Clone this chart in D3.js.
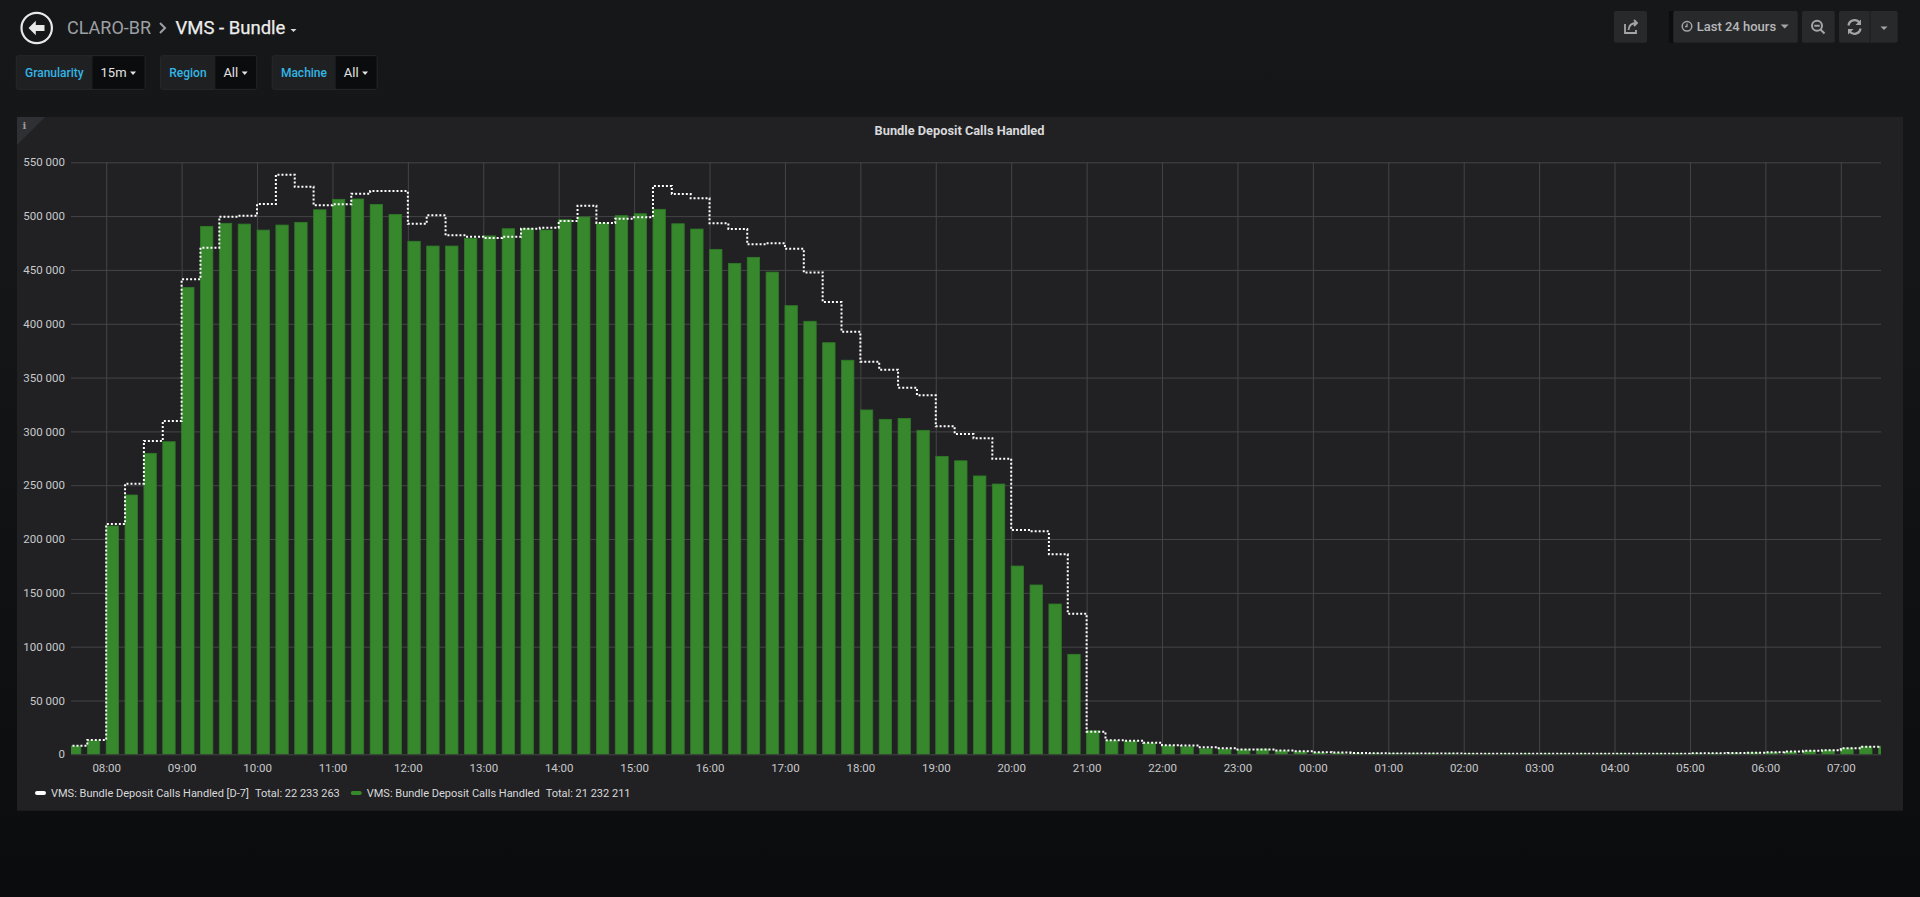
<!DOCTYPE html>
<html lang="en">
<head>
<meta charset="utf-8">
<title>VMS - Bundle</title>
<script src="https://d3js.org/d3.v7.min.js"></script>
<style>
  html, body { margin: 0; padding: 0; }
  body {
    width: 1920px; height: 897px; overflow: hidden;
    font-family: Roboto, "Helvetica Neue", Arial, sans-serif;
    background: linear-gradient(180deg, #161719 0px, #151618 250px, #0b0c0e 897px);
  }
  svg { display: block; }
</style>
</head>
<body>
<script>
// 15 minute buckets, 07:30 -> 07:30 next day
var startTime = "2018-06-11 07:30";

// VMS: Bundle Deposit Calls Handled
var calls = [
  7700, 12700,
  212100, 240900, 279600, 290400,
  433800, 490500, 493300, 492600,
  487000, 491700, 494200, 505900,
  515600, 515900, 510900, 501600,
  476600, 472200, 472200, 479400,
  481600, 488300, 488600, 487100,
  496700, 499200, 493600, 500400,
  502200, 506300, 492900, 488000,
  469100, 456100, 461700, 448000,
  416800, 402300, 382400, 366100,
  319900, 311200, 312100, 301000,
  276800, 272700, 258600, 251100,
  174900, 157300, 139600, 92900,
  21900, 12800, 12200, 10300,
  7900, 7000, 5100, 4800,
  4200, 4800, 3200, 2300,
  1400, 1100, 900, 800,
  700, 600, 600, 500,
  500, 400, 400, 400,
  400, 400, 400, 400,
  500, 500, 500, 600,
  700, 800, 1000, 1400,
  1800, 2300, 3200, 3800,
  5700, 7000, 7600
];

// VMS: Bundle Deposit Calls Handled [D-7]
var callsD7 = [
  8000, 13300,
  213900, 251400, 291000, 309600,
  441300, 470700, 499500, 500400,
  511200, 538500, 527300, 510000,
  511000, 520800, 523300, 523300,
  492900, 500700, 482200, 480900,
  479600, 480900, 488300, 489200,
  495500, 509700, 493600, 497600,
  498900, 528000, 520500, 516500,
  493300, 488000, 473800, 474700,
  469700, 447700, 420200, 392600,
  364800, 357300, 340600, 333500,
  304700, 297600, 293600, 274600,
  208400, 207200, 185800, 130600,
  21000, 13100, 12500, 10700,
  8500, 8200, 6600, 5700,
  4500, 4500, 3500, 2900,
  2000, 1600, 1300, 1000,
  700, 700, 700, 700,
  500, 500, 500, 500,
  500, 500, 500, 500,
  500, 500, 500, 500,
  900, 1000, 1200, 1500,
  2000, 2600, 3200, 3800,
  5700, 7000, 7500
];

var seriesNames = ["VMS: Bundle Deposit Calls Handled [D-7]", "VMS: Bundle Deposit Calls Handled"];
var seriesTotals = [22233263, 21232211];
var seriesColors = ["#ffffff", "#37872d"];
var yTicks = [0, 50000, 100000, 150000, 200000, 250000, 300000, 350000, 400000, 450000, 500000, 550000];

var varLabels = ["Granularity", "Region", "Machine"];
var varValues = ["15m", "All", "All"];

var W = 1920, H = 897;
var plot = {left: 71, right: 1881, top: 162.3, bottom: 754.3};

var fmt = d3.formatLocale({decimal: ".", thousands: " ", grouping: [3], currency: ["", ""]}).format(",");

var t0 = d3.timeParse("%Y-%m-%d %H:%M")(startTime);
var times = calls.map(function(d, i) { return d3.timeMinute.offset(t0, 15 * i); });

var svg = d3.select("body").append("svg")
  .attr("width", W).attr("height", H);

// ---------- header ----------
var hdr = svg.append("g");
hdr.append("circle").attr("cx", 36.7).attr("cy", 28).attr("r", 15.2)
  .attr("fill", "none").attr("stroke", "#e8e8e8").attr("stroke-width", 2.2);
hdr.append("path")
  .attr("d", "M28.5,28 L35.8,20.8 L35.8,25 L44.5,25 L44.5,31 L35.8,31 L35.8,35.2 Z")
  .attr("fill", "#e8e8e8");
hdr.append("text").attr("x", 67).attr("y", 33.5)
  .attr("font-size", 18).attr("fill", "#9da0a4").text("CLARO-BR");
hdr.append("path").attr("d", "M160,23 L165,28 L160,33")
  .attr("fill", "none").attr("stroke", "#9da0a4").attr("stroke-width", 2);
hdr.append("text").attr("x", 175.5).attr("y", 33.5)
  .attr("font-size", 18.5).attr("fill", "#ececec").attr("stroke", "#ececec").attr("stroke-width", 0.25)
  .text("VMS - Bundle");
hdr.append("path").attr("d", "M290.5,29 L296.5,29 L293.5,32 Z").attr("fill", "#d8d9da");

// template variables
var vx = 16.3;
varLabels.forEach(function(lab, i) {
  var g = svg.append("g");
  var lt = g.append("text").attr("y", 76.5).attr("font-size", 12).attr("font-weight", 500)
    .attr("fill", "#33b5e5").text(lab);
  var lw = lt.node().getComputedTextLength();
  var vt = g.append("text").attr("y", 77).attr("font-size", 13)
    .attr("fill", "#e3e3e3").text(varValues[i]);
  var vw = vt.node().getComputedTextLength();
  var labW = lw + 17.5, valW = vw + 8 + 3.5 + 6 + 9;
  g.insert("rect", "text").attr("x", vx).attr("y", 55.7).attr("width", labW + valW).attr("height", 33.6)
    .attr("rx", 2).attr("fill", "#1f2022").attr("stroke", "#27282a");
  g.insert("rect", "text").attr("x", vx + labW).attr("y", 56.2).attr("width", valW - 0.5).attr("height", 32.6)
    .attr("fill", "#0b0c0e");
  lt.attr("x", vx + 8.7);
  vt.attr("x", vx + labW + 8);
  var cx = vx + labW + 8 + vw + 3.5;
  g.append("path").attr("d", "M" + cx + ",71.5 l6,0 l-3,3.5 Z").attr("fill", "#e3e3e3");
  vx += labW + valW + 15.5;
});

// top right buttons
var btnFill = "#28292b", iconCol = "#a3a6a9";
function btn(x, w) {
  svg.append("rect").attr("x", x).attr("y", 11).attr("width", w).attr("height", 31.7)
    .attr("rx", 2).attr("fill", btnFill);
}
btn(1614, 33);
svg.append("rect").attr("x", 1669).attr("y", 11).attr("width", 4.3).attr("height", 31.7).attr("fill", "#0c0d0f");
btn(1673.3, 124.4);
btn(1802, 32.7);
btn(1839, 58.7);
svg.append("line").attr("x1", 1870).attr("x2", 1870).attr("y1", 11).attr("y2", 42.7)
  .attr("stroke", "#1c1d1f");
// share
svg.append("path").attr("d", "M1625,24 v9 h11 v-3")
  .attr("fill", "none").attr("stroke", iconCol).attr("stroke-width", 1.8);
svg.append("path").attr("d", "M1628.5,30 q0.5,-7 8,-7 M1634,20 l3,3 l-3,3")
  .attr("fill", "none").attr("stroke", iconCol).attr("stroke-width", 1.8);
// clock
svg.append("circle").attr("cx", 1687).attr("cy", 26.3).attr("r", 4.8)
  .attr("fill", "none").attr("stroke", iconCol).attr("stroke-width", 1.5);
svg.append("path").attr("d", "M1687,23.5 v3 h-2").attr("fill", "none")
  .attr("stroke", iconCol).attr("stroke-width", 1.3);
svg.append("text").attr("x", 1696.7).attr("y", 31).attr("font-size", 13).attr("font-weight", 500)
  .attr("fill", "#b7b8ba").text("Last 24 hours");
svg.append("path").attr("d", "M1780.7,24.5 l8,0 l-4,4 Z").attr("fill", iconCol);
// zoom out
svg.append("circle").attr("cx", 1817).attr("cy", 25.8).attr("r", 5)
  .attr("fill", "none").attr("stroke", iconCol).attr("stroke-width", 2);
svg.append("path").attr("d", "M1820.5,29.5 l4,4 M1814.3,25.8 h5.4").attr("fill", "none")
  .attr("stroke", iconCol).attr("stroke-width", 2);
// refresh
svg.append("path").attr("d", "M1848.5,25.5 a6,6 0 0 1 11,-2.5 M1860.5,28.5 a6,6 0 0 1 -11,2.5")
  .attr("fill", "none").attr("stroke", iconCol).attr("stroke-width", 2.2);
svg.append("path").attr("d", "M1861,19.5 v5.5 h-5.5 Z M1848,34.5 v-5.5 h5.5 Z").attr("fill", iconCol);
svg.append("path").attr("d", "M1880.5,26.5 l7,0 l-3.5,3.5 Z").attr("fill", iconCol);

// ---------- panel ----------
svg.append("rect").attr("x", 17).attr("y", 117).attr("width", 1886).attr("height", 693.7)
  .attr("fill", "#212124");
svg.append("path").attr("d", "M17,117 L45,117 L17,145 Z").attr("fill", "#2f3034");
svg.append("text").attr("x", 24.5).attr("y", 129).attr("font-size", 10).attr("font-family", "DejaVu Serif")
  .attr("font-weight", "bold").attr("text-anchor", "middle").attr("fill", "#9a9c9f").text("i");
svg.append("text").attr("x", 959.5).attr("y", 135).attr("text-anchor", "middle")
  .attr("font-size", 12.8).attr("font-weight", 700).attr("fill", "#d8d9da")
  .text("Bundle Deposit Calls Handled");

var x = d3.scaleTime()
  .domain([d3.timeMinute.offset(t0, 2), d3.timeMinute.offset(t0, 24 * 60 + 2)])
  .range([plot.left, plot.right]);
var y = d3.scaleLinear().domain([0, 550000]).range([plot.bottom, plot.top]);

var gridCol = "#454547";
var yAxis = svg.append("g").attr("transform", "translate(" + plot.left + ",0)")
  .call(d3.axisLeft(y).tickValues(yTicks).tickFormat(fmt)
    .tickSize(-(plot.right - plot.left)).tickSizeOuter(0).tickPadding(6));
var xAxis = svg.append("g").attr("transform", "translate(0," + plot.bottom + ")")
  .call(d3.axisBottom(x).ticks(d3.timeHour.every(1)).tickFormat(d3.timeFormat("%H:%M"))
    .tickSize(-(plot.bottom - plot.top)).tickSizeOuter(0).tickPadding(9.5));
[xAxis, yAxis].forEach(function(a) {
  a.select(".domain").remove();
  a.selectAll(".tick line").attr("stroke", gridCol).attr("stroke-width", 1);
  a.selectAll(".tick text").attr("fill", "#c8c9cb").attr("font-size", 11.5)
    .attr("font-family", "Roboto, sans-serif");
});

svg.append("clipPath").attr("id", "plotclip").append("rect")
  .attr("x", plot.left).attr("y", plot.top - 20)
  .attr("width", plot.right - plot.left).attr("height", plot.bottom - plot.top + 20);

var plotG = svg.append("g").attr("clip-path", "url(#plotclip)");
var barW = 12.4;

plotG.selectAll(".bar")
  .data(calls)
  .enter().append("rect")
  .attr("class", "bar")
  .attr("x", function(d, i) { return x(times[i]); })
  .attr("width", barW)
  .attr("y", function(d) { return y(d); })
  .attr("height", function(d) { return plot.bottom - y(d); })
  .attr("fill", seriesColors[1])
  .attr("stroke", "#2f7a27").attr("stroke-width", 0.8);

var stepLine = d3.line()
  .x(function(d, i) { return x(times[i]); })
  .y(function(d) { return y(d); })
  .curve(d3.curveStepAfter);

plotG.append("path")
  .datum(callsD7)
  .attr("d", stepLine)
  .attr("fill", "none")
  .attr("stroke", seriesColors[0])
  .attr("stroke-width", 2)
  .attr("stroke-dasharray", "2,2");

// ---------- legend ----------
var lx = 35;
seriesNames.forEach(function(name, i) {
  svg.append("rect").attr("x", lx).attr("y", 791).attr("width", 11).attr("height", 4)
    .attr("rx", 2).attr("fill", seriesColors[i]);
  var nt = svg.append("text").attr("x", lx + 16).attr("y", 797).attr("font-size", 11)
    .attr("fill", "#d8d9da").text(name);
  var nx = lx + 16 + nt.node().getComputedTextLength() + 6;
  var tt = svg.append("text").attr("x", nx).attr("y", 797).attr("font-size", 11)
    .attr("fill", "#d8d9da").text("Total: " + fmt(seriesTotals[i]));
  lx = nx + tt.node().getComputedTextLength() + 11;
});
</script>
</body>
</html>
